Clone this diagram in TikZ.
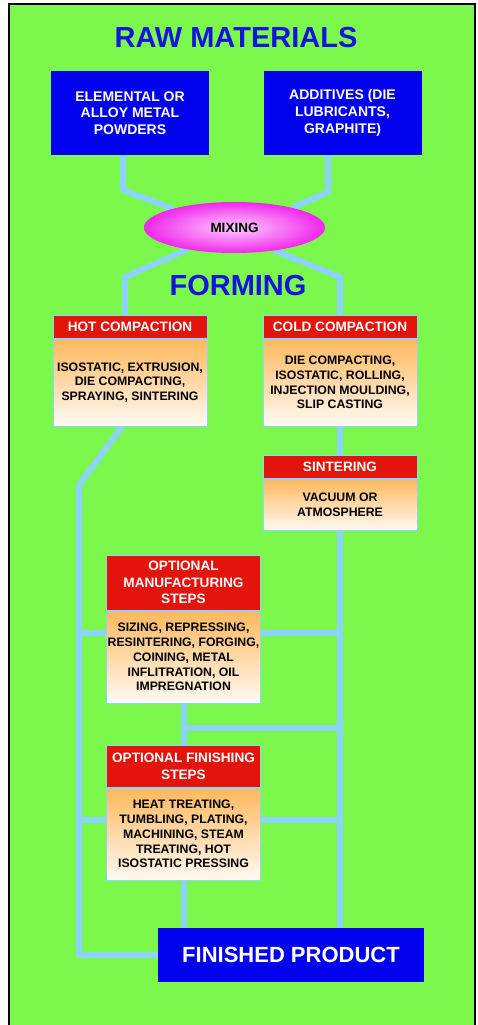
\documentclass[tikz,border=0pt]{standalone}
\usepackage{fontspec}
\setmainfont{Liberation Sans}
\usetikzlibrary{positioning,shapes.geometric}
\definecolor{bggreen}{RGB}{124,248,76}
\definecolor{linkblue}{RGB}{140,212,255}
\definecolor{boxblue}{RGB}{0,0,238}
\definecolor{titleblue}{RGB}{20,20,220}
\definecolor{hdrred}{RGB}{226,20,12}
\definecolor{bodytop}{RGB}{255,184,92}
\definecolor{bodybot}{RGB}{255,250,244}
\definecolor{mixpink}{RGB}{240,40,236}
\definecolor{mixlight}{RGB}{255,205,255}
\pgfdeclarelayer{back}
\pgfdeclarelayer{links}
\pgfsetlayers{back,links,main}
\tikzset{
  title/.style={text=titleblue,font=\bfseries\fontsize{29}{31}\selectfont},
  rawbox/.style={fill=boxblue,text=white,minimum width=158pt,minimum height=84pt,
    align=center,font=\bfseries\fontsize{14}{16.7}\selectfont},
  hdr/.style={fill=hdrred,draw=linkblue,line width=1pt,text=white,minimum width=154pt,
    inner sep=0pt,align=center,font=\bfseries\fontsize{13.6}{16.7}\selectfont},
  body/.style={top color=bodytop,bottom color=bodybot,draw=linkblue,line width=1pt,
    minimum width=154pt,inner sep=0pt,align=center,font=\bfseries\fontsize{12.3}{14.8}\selectfont},
  link/.style={draw=linkblue,line width=6pt},
}
\begin{document}
\begin{tikzpicture}[x=1pt,y=-1pt]
  \useasboundingbox (0,0) rectangle (478,1025);
  \begin{pgfonlayer}{back}
    \draw[fill=bggreen,line width=1.5pt] (9,4) rectangle (475,1032);
  \end{pgfonlayer}

  \node[title] (raw) at (236,38) {RAW MATERIALS};
  \node[rawbox] (powders) at (130,113) {ELEMENTAL OR\\ALLOY METAL\\POWDERS};
  \node[rawbox] (additives) at (342.5,113) {ADDITIVES (DIE\\LUBRICANTS,\\GRAPHITE)};
  \node[ellipse,inner color=mixlight,outer color=mixpink,minimum width=181pt,minimum height=51pt,
    font=\bfseries\fontsize{13.5}{15}\selectfont] (mix) at (234.5,227.5) {MIXING};
  \node[title] (forming) at (238,286) {FORMING};

  \node[hdr,minimum height=23pt] (hot) at (130,326.5) {HOT COMPACTION};
  \node[body,minimum height=87pt,below=0pt of hot] (hotbody) {ISOSTATIC, EXTRUSION,\\DIE COMPACTING,\\SPRAYING, SINTERING};
  \node[hdr,minimum height=23pt] (cold) at (340,326.5) {COLD COMPACTION};
  \node[body,minimum height=87pt,below=0pt of cold] (coldbody) {DIE COMPACTING,\\ISOSTATIC, ROLLING,\\INJECTION MOULDING,\\SLIP CASTING};
  \node[hdr,minimum height=23pt] (sinter) at (340,466.5) {SINTERING};
  \node[body,minimum height=51pt,below=0pt of sinter] (sinterbody) {VACUUM OR\\ATMOSPHERE};
  \node[hdr,minimum height=55pt] (manu) at (183.5,582.5) {OPTIONAL\\MANUFACTURING\\STEPS};
  \node[body,minimum height=92pt,below=0pt of manu] (manubody) {SIZING, REPRESSING,\\RESINTERING, FORGING,\\COINING, METAL\\INFLITRATION, OIL\\IMPREGNATION};
  \node[hdr,minimum height=42pt] (finish) at (183.5,766) {OPTIONAL FINISHING\\STEPS};
  \node[body,minimum height=92pt,below=0pt of finish] (finishbody) {HEAT TREATING,\\TUMBLING, PLATING,\\MACHINING, STEAM\\TREATING, HOT\\ISOSTATIC PRESSING};
  \node[fill=boxblue,text=white,minimum width=266pt,minimum height=54pt,
    font=\bfseries\fontsize{22}{24}\selectfont] (product) at (291,955) {FINISHED PRODUCT};

  \coordinate (pbend) at (123,190);
  \coordinate (abend) at (328,192);
  \coordinate (hbend) at (125,277);
  \coordinate (cbend) at (340,277);
  \coordinate (hotx) at (122,0);
  \coordinate (lbend) at (79,485);
  \coordinate (lcorner) at (79,955);
  \coordinate (mleft) at (79,633);
  \coordinate (mright) at (340,633);
  \coordinate (mjoin) at (340,728);
  \coordinate (fleft) at (79,820);
  \coordinate (fright) at (340,820);
  \begin{pgfonlayer}{links}
    \draw[link] (powders.south -| pbend) -- (pbend) -- (mix.163);
    \draw[link] (additives.south -| abend) -- (abend) -- (mix.19);
    \draw[link] (mix.205) -- (hbend) -- (hot.north -| hbend);
    \draw[link] (mix.330) -- (cbend) -- (cold.north);
    \draw[link] (hotbody.south -| hotx) -- (lbend) -- (lcorner) -- (product.west);
    \draw[link] (coldbody.south) -- (sinter.north);
    \draw[link] (sinterbody.south) -- (product.north -| sinterbody.south);
    \draw[link] (mleft) -- (mright);
    \draw[link] (manubody.south) -- (finish.north);
    \draw[link] (manubody.south |- mjoin) -- (mjoin);
    \draw[link] (fleft) -- (fright);
    \draw[link] (finishbody.south) -- (product.north -| finishbody.south);
  \end{pgfonlayer}
\end{tikzpicture}
\end{document}
